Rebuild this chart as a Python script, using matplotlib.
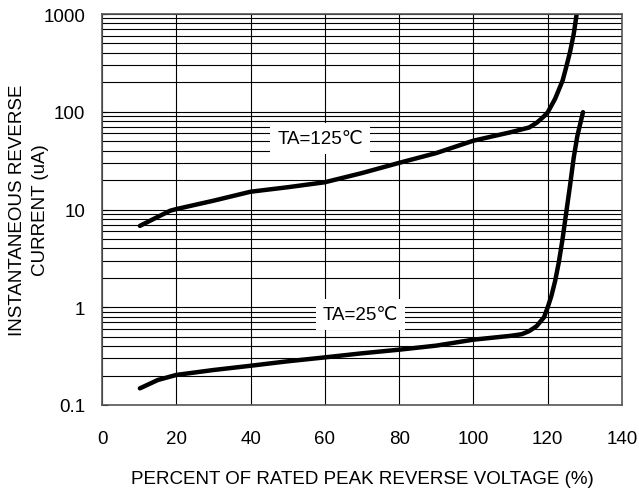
import numpy as np
import matplotlib.pyplot as plt
from matplotlib.ticker import LogLocator, FixedLocator, NullFormatter

plt.rcParams['font.family'] = ['Liberation Sans', 'DejaVu Sans']

# TA = 125 C curve
x_125 = [10.2, 15, 18.3, 20, 30, 40, 50, 60, 70, 80, 90, 100, 110, 115, 117, 118, 119, 120, 122, 124, 125, 126, 127, 127.8]
y_125 = [6.8, 8.4, 9.7, 10.1, 12.3, 15.2, 16.9, 19, 23.6, 30, 37.8, 50.6, 61.7, 69, 77, 83, 90, 98.6, 136, 208, 288, 407, 624, 1000]

# TA = 25 C curve
x_25 = [10.2, 15, 20, 30, 40, 50, 60, 70, 80, 90, 100, 110, 113, 115, 117, 119, 120, 121, 122, 123, 124, 125, 126, 127, 128, 129.5]
y_25 = [0.148, 0.18, 0.203, 0.228, 0.252, 0.28, 0.307, 0.338, 0.368, 0.405, 0.466, 0.51, 0.53, 0.57, 0.64, 0.79, 1.0, 1.31, 1.86, 2.9, 5, 9.4, 17.5, 34, 57, 99]

fig = plt.figure(figsize=(6.39, 4.89), dpi=100)
ax = fig.add_axes([102/639, (489-406)/489, 520/639, 391/489])

for xs, ys in [(x_125, y_125), (x_25, y_25)]:
    ax.plot(xs, ys, color='black', linewidth=3.2,
            solid_capstyle='round', solid_joinstyle='round')

ax.set_yscale('log')
ax.set_xlim(0, 140)
ax.set_ylim(0.1, 1000)

ax.xaxis.set_major_locator(FixedLocator([0, 20, 40, 60, 80, 100, 120, 140]))
ax.yaxis.set_minor_locator(LogLocator(base=10, subs=np.arange(2, 10), numticks=10))
ax.yaxis.set_minor_formatter(NullFormatter())
ax.set_yticks([0.1, 1, 10, 100, 1000])
ax.set_yticklabels(['0.1', '1', '10', '100', '1000'])

ax.grid(True, which='major', axis='x', color='black', linewidth=0.8)
ax.grid(True, which='both', axis='y', color='black', linewidth=0.8)

ax.tick_params(axis='y', which='major', direction='in', length=4, labelsize=13.5, pad=12)
ax.tick_params(axis='y', which='minor', length=0)
ax.tick_params(axis='x', length=0, labelsize=13.5, pad=18)

for s in ax.spines.values():
    s.set_color('#555555')
    s.set_linewidth(1.2)

ax.set_xlabel('PERCENT OF RATED PEAK REVERSE VOLTAGE (%)', fontsize=13.5)
ax.xaxis.set_label_coords(0.5, -0.166)
ax.set_ylabel('INSTANTANEOUS REVERSE\nCURRENT (uA)', fontsize=13.5, linespacing=1.5)
ax.yaxis.set_label_coords(-0.14, 0.5)
ax.yaxis.label.set_va('center')

box = dict(facecolor='white', edgecolor='none', pad=5)
ax.text(58.7, 53, 'TA=125℃', fontsize=13.5, ha='center', va='center', bbox=box)
ax.text(69.5, 0.84, 'TA=25℃', fontsize=13.5, ha='center', va='center', bbox=box)

fig.savefig('out.png', dpi=100)
